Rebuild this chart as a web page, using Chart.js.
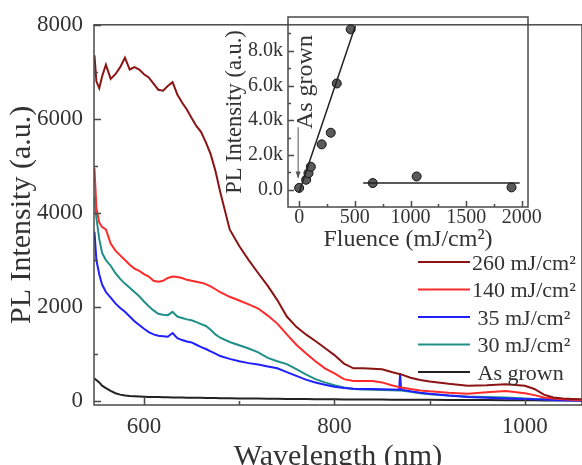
<!DOCTYPE html>
<html>
<head>
<meta charset="utf-8">
<script src="https://cdn.jsdelivr.net/npm/chart.js@4.4.0/dist/chart.umd.min.js"></script>
<style>
  html, body { margin: 0; padding: 0; background: #fff; }
  #wrap { position: relative; width: 582px; height: 465px; overflow: hidden; }
  #main { position: absolute; left: 0; top: 0; }
  #inset { position: absolute; left: 210px; top: 0; }
</style>
</head>
<body>
<div id="wrap">
  <canvas id="main" width="582" height="465"></canvas>
  <canvas id="inset" width="340" height="260"></canvas>
</div>
<script>
// Wavelength grid (nm)
const wavelengths = [548, 550, 553, 556, 560, 565, 570, 575, 580, 585, 590, 595, 600, 605, 610, 615, 620, 625, 630, 635,
  640, 645, 650, 655, 660, 665, 670, 675, 680, 690, 700, 710, 720, 730, 740, 750, 760, 770, 780, 790,
  800, 810, 820, 830, 840, 850, 860, 868, 869, 870, 880, 890, 900, 920, 940, 960, 980, 1000, 1010, 1020,
  1030, 1040, 1050, 1060];

// PL spectra (a.u.)
const pl260 = [7350, 6800, 6650, 6900, 7150, 6850, 6950, 7100, 7300, 7050, 7100, 7050, 6950, 6880, 6750, 6620, 6600, 6700, 6780, 6520,
  6350, 6200, 6020, 5850, 5720, 5500, 5250, 4900, 4450, 3650, 3300, 3000, 2720, 2450, 2150, 1800, 1580, 1420, 1280, 1130,
  980, 800, 700, 700, 690, 680, 620, 580, 580, 570, 500, 450, 420, 370, 330, 340, 360, 330, 260, 140,
  80, 60, 50, 40];
const pl140 = [4950, 4100, 3800, 3700, 3650, 3350, 3200, 3100, 3000, 2900, 2820, 2770, 2700, 2650, 2560, 2540, 2560, 2620, 2650, 2640,
  2620, 2580, 2560, 2540, 2520, 2490, 2440, 2380, 2320, 2220, 2140, 2060, 1970, 1820, 1650, 1420, 1200, 1020, 850, 700,
  590, 470, 430, 430, 430, 400, 340, 300, 295, 290, 260, 230, 210, 180, 160, 190, 220, 170, 130, 80,
  60, 40, 30, 20];
const pl35 = [3600, 3000, 2700, 2480, 2320, 2200, 2080, 1980, 1900, 1800, 1700, 1620, 1540, 1470, 1420, 1390, 1380, 1370, 1450, 1340,
  1300, 1270, 1250, 1200, 1150, 1110, 1060, 1010, 960, 900, 850, 810, 780, 740, 700, 620, 540, 460, 400, 350,
  310, 280, 265, 260, 260, 255, 250, 245, 600, 245, 210, 180, 160, 120, 90, 75, 60, 50, 40, 35,
  25, 20, 15, 10];
const pl30 = [4350, 3900, 3450, 3150, 3000, 2880, 2720, 2600, 2500, 2410, 2320, 2230, 2120, 2020, 1930, 1860, 1840, 1830, 1900, 1800,
  1770, 1740, 1720, 1680, 1640, 1600, 1520, 1420, 1350, 1260, 1190, 1120, 1040, 920, 850, 790, 680, 570, 470, 400,
  340, 290, 260, 250, 245, 240, 235, 230, 230, 228, 200, 170, 150, 120, 100, 90, 80, 60, 50, 40,
  30, 25, 20, 15];
const plAsGrown = [480, 450, 400, 330, 280, 220, 170, 140, 120, 110, 105, 100, 95, 92, 90, 88, 85, 84, 82, 80,
  78, 76, 75, 73, 72, 70, 69, 68, 66, 63, 60, 58, 56, 54, 52, 50, 48, 46, 44, 42,
  40, 39, 38, 37, 36, 35, 34, 33, 33, 33, 32, 31, 30, 28, 26, 25, 23, 20, 19, 18,
  17, 16, 15, 15];

const seriesLabels = ['260 mJ/cm²', '140 mJ/cm²', ' 35 mJ/cm²', ' 30 mJ/cm²', ' As grown'];
const seriesValues = [pl260, pl140, pl35, pl30, plAsGrown];
const seriesColors = ['#8b1414', '#ff2a2a', '#1f1fff', '#1f9088', '#222222'];

const mainXTicks = [600, 800, 1000];
const mainXMinor = [700, 900];
const mainYTicks = [0, 2000, 4000, 6000, 8000];
const mainYMinor = [1000, 3000, 5000, 7000];

// Inset: peak PL vs fluence
const fluence = [0, 63, 84, 105, 203, 284, 338, 463, 661, 1055, 1907];
const peakPL = [100, 570, 950, 1320, 2610, 3280, 6120, 9240, 380, 760, 130];
const fitRiseX = [0, 505];
const fitRiseY = [-150, 9450];
const fitFlatX = [575, 1980];
const fitFlatY = [380, 380];
const insetXTicks = [0, 500, 1000, 1500, 2000];
const insetXMinor = [250, 750, 1250, 1750];
const insetYTicks = [0, 2000, 4000, 6000, 8000];
const insetYMinor = [1000, 3000, 5000, 7000, 9000];

const serif = "'Liberation Serif', 'Times New Roman', serif";
const textColor = '#333';
const axisColor = '#4a4a4a';

// frame + inward tick marks
const frameTicks = {
  id: 'frameTicks',
  afterDatasetsDraw(chart, args, opts) {
    const { ctx, chartArea: a, scales: { x, y } } = chart;
    ctx.save();
    ctx.strokeStyle = axisColor;
    ctx.lineWidth = 1.5;
    ctx.strokeRect(a.left, a.top, a.right - a.left, a.bottom - a.top);
    ctx.beginPath();
    const tx = (vals, len) => vals.forEach(v => {
      const px = Math.round(x.getPixelForValue(v)) + 0.5;
      ctx.moveTo(px, a.bottom); ctx.lineTo(px, a.bottom - len);
    });
    const ty = (vals, len) => vals.forEach(v => {
      const py = Math.round(y.getPixelForValue(v)) + 0.5;
      ctx.moveTo(a.left, py); ctx.lineTo(a.left + len, py);
    });
    tx(opts.xMajor, opts.major); tx(opts.xMinor, opts.minor);
    ty(opts.yMajor, opts.major); ty(opts.yMinor, opts.minor);
    ctx.stroke();
    ctx.restore();
  }
};

// legend in the lower right
const sideLegend = {
  id: 'sideLegend',
  afterDatasetsDraw(chart) {
    const { ctx } = chart;
    ctx.save();
    ctx.font = '22px ' + serif;
    ctx.textBaseline = 'middle';
    chart.data.datasets.forEach((ds, i) => {
      const yy = 262 + i * 27.5;
      ctx.strokeStyle = ds.borderColor;
      ctx.lineWidth = 2;
      ctx.beginPath(); ctx.moveTo(418, yy); ctx.lineTo(470, yy); ctx.stroke();
      ctx.fillStyle = textColor;
      ctx.fillText(ds.label, 472, yy + 2);
    });
    ctx.restore();
  }
};

new Chart(document.getElementById('main'), {
  type: 'line',
  data: {
    datasets: seriesValues.map((vals, i) => ({
      label: seriesLabels[i],
      data: vals.map((v, j) => ({ x: wavelengths[j], y: v })),
      borderColor: seriesColors[i],
      borderWidth: 2,
      pointRadius: 0,
      tension: 0
    }))
  },
  options: {
    responsive: false,
    animation: false,
    layout: { padding: { top: 13, right: 0, left: 0, bottom: 0 } },
    plugins: {
      legend: { display: false },
      tooltip: { enabled: false },
      frameTicks: { xMajor: mainXTicks, xMinor: mainXMinor, yMajor: mainYTicks, yMinor: mainYMinor, major: 7, minor: 4 }
    },
    scales: {
      x: {
        type: 'linear', min: 547.5, max: 1060,
        grid: { display: false, drawTicks: false },
        border: { display: false },
        afterBuildTicks: s => { s.ticks = mainXTicks.map(v => ({ value: v })); },
        afterFit: s => { s.height = 60; },
        ticks: { font: { family: serif, size: 23 }, color: textColor, padding: 8, maxRotation: 0, autoSkip: false,
          callback: v => String(v) },
        title: { display: true, text: 'Wavelength (nm)', color: textColor, padding: 0,
          font: { family: serif, size: 30, lineHeight: 0.5 } }
      },
      y: {
        min: -80, max: 8000,
        grid: { display: false, drawTicks: false },
        border: { display: false },
        afterBuildTicks: s => { s.ticks = mainYTicks.map(v => ({ value: v })); },
        afterFit: s => { s.width = 94; },
        ticks: { font: { family: serif, size: 23 }, color: textColor, padding: 11, callback: v => String(v) },
        title: { display: true, text: 'PL Intensity (a.u.)', color: textColor, padding: { top: 4, bottom: 0 },
          font: { family: serif, size: 30, lineHeight: 1.2 } }
      }
    }
  },
  plugins: [frameTicks, sideLegend]
});

// "As grown" arrow in the inset
const asGrownNote = {
  id: 'asGrownNote',
  afterDatasetsDraw(chart) {
    const { ctx, scales: { x, y } } = chart;
    const px = x.getPixelForValue(0) - 1;
    const yTop = y.getPixelForValue(3600), yBot = y.getPixelForValue(700);
    ctx.save();
    ctx.strokeStyle = '#555'; ctx.fillStyle = '#555'; ctx.lineWidth = 1;
    ctx.beginPath(); ctx.moveTo(px, yTop); ctx.lineTo(px, yBot); ctx.stroke();
    ctx.beginPath(); ctx.moveTo(px - 2.5, yBot - 6); ctx.lineTo(px + 2.5, yBot - 6); ctx.lineTo(px, yBot + 1); ctx.closePath(); ctx.fill();
    ctx.translate(px + 8, y.getPixelForValue(6200));
    ctx.rotate(-Math.PI / 2);
    ctx.font = '24px ' + serif;
    ctx.fillStyle = textColor;
    ctx.textAlign = 'center'; ctx.textBaseline = 'middle';
    ctx.fillText('As grown', 0, 0);
    ctx.restore();
  }
};

new Chart(document.getElementById('inset'), {
  type: 'scatter',
  data: {
    datasets: [
      { data: fitRiseX.map((v, i) => ({ x: v, y: fitRiseY[i] })), showLine: true, borderColor: '#222', borderWidth: 1.5, pointRadius: 0 },
      { data: fitFlatX.map((v, i) => ({ x: v, y: fitFlatY[i] })), showLine: true, borderColor: '#222', borderWidth: 1.5, pointRadius: 0 },
      { data: fluence.map((v, i) => ({ x: v, y: peakPL[i] })), pointRadius: 4.5, backgroundColor: '#5a5a5a', borderColor: '#111', borderWidth: 1 }
    ]
  },
  options: {
    responsive: false,
    animation: false,
    layout: { padding: { top: 15, right: 22, left: 0, bottom: 0 } },
    plugins: {
      legend: { display: false },
      tooltip: { enabled: false },
      frameTicks: { xMajor: insetXTicks, xMinor: insetXMinor, yMajor: insetYTicks, yMinor: insetYMinor, major: 6, minor: 3 }
    },
    scales: {
      x: {
        type: 'linear', min: -100, max: 2055,
        grid: { display: false, drawTicks: false },
        border: { display: false },
        afterBuildTicks: s => { s.ticks = insetXTicks.map(v => ({ value: v })); },
        afterFit: s => { s.height = 53; },
        ticks: { font: { family: serif, size: 20, lineHeight: 1 }, color: textColor, padding: 1, maxRotation: 0, autoSkip: false,
          callback: v => String(v) },
        title: { display: true, text: 'Fluence (mJ/cm²)', color: textColor, padding: { top: 0, bottom: 5.6 },
          font: { family: serif, size: 24, lineHeight: 1.2 } }
      },
      y: {
        min: -1000, max: 9950,
        grid: { display: false, drawTicks: false },
        border: { display: false },
        afterBuildTicks: s => { s.ticks = insetYTicks.map(v => ({ value: v })); },
        afterFit: s => { s.width = 78; },
        ticks: { font: { family: serif, size: 20 }, color: textColor, padding: 5,
          callback: v => (v / 1000).toFixed(1) + (v === 0 ? '' : 'k') },
        title: { display: true, text: 'PL Intensity (a.u.)', color: textColor, padding: { top: 11.5, bottom: 0 },
          font: { family: serif, size: 22.5, lineHeight: 1.2 } }
      }
    }
  },
  plugins: [frameTicks, asGrownNote]
});
</script>
</body>
</html>
